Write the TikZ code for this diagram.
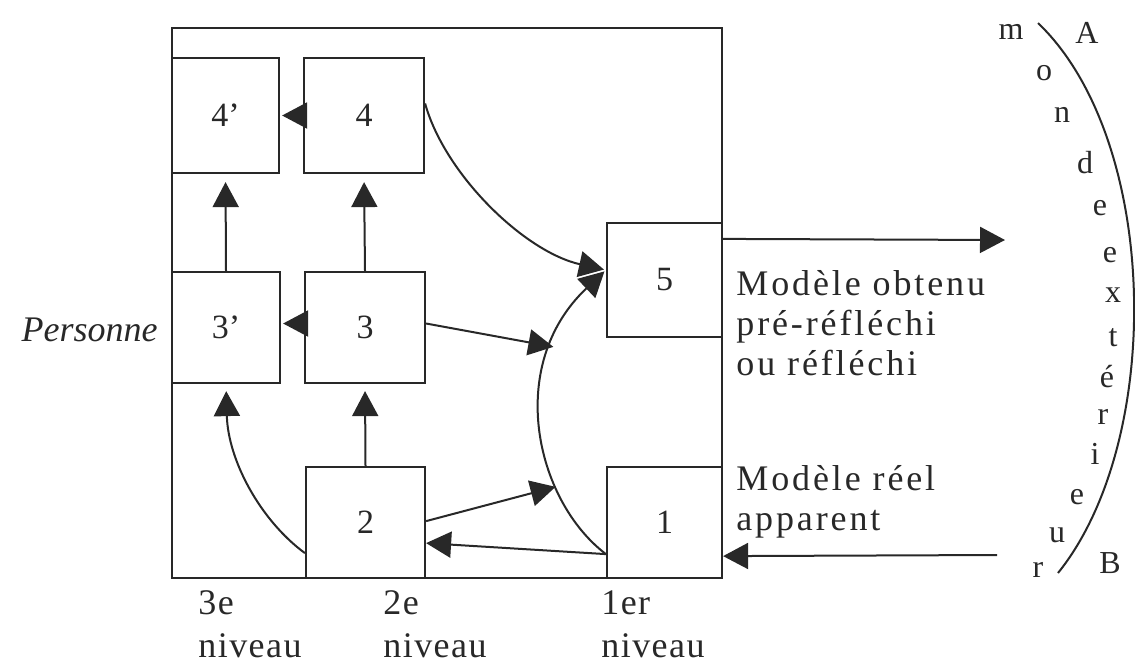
\documentclass[tikz,border=0pt]{standalone}
\usepackage{fontspec}
\setmainfont{Liberation Serif}
\newfontfamily\widefont[LetterSpace=8]{Liberation Serif}
\newfontfamily\midfont[LetterSpace=4]{Liberation Serif}
\usetikzlibrary{arrows.meta, calc}
\definecolor{ink}{RGB}{40,40,40}
\tikzset{
    box/.style={draw=ink, line width=1.1pt, inner sep=0pt, text=ink,
        font=\fontsize{17}{20}\selectfont},
    arr/.style={ink, line width=1pt, -{Triangle[length=12.5pt, width=13pt]}},
    model/.style={text=ink, inner sep=0pt, align=left,
        font=\widefont\fontsize{18}{20}\selectfont},
    lvl/.style={text=ink, inner sep=0pt, font=\midfont\fontsize{18}{20}\selectfont},
    letter/.style={text=ink, inner sep=0pt, font=\fontsize{16}{18}\selectfont},
}

\begin{document}
\begin{tikzpicture}[x=0.5pt, y=-0.5pt]
    \useasboundingbox (0,0) rectangle (1135,666);

    %% Outer frame (the person)
    \draw[ink, line width=1.1pt] (172,28) rectangle (722,578);

    %% --- Boxes ---
    \node[box, minimum width=53.5pt, minimum height=57.5pt] (b4p) at (225.5,115.5) {4’};
    \node[box, minimum width=60pt,   minimum height=57.5pt] (b4)  at (364,115.5)   {4};
    \node[box, minimum width=54pt,   minimum height=55.5pt] (b3p) at (226,327.5)   {3’};
    \node[box, minimum width=60pt,   minimum height=55.5pt] (b3)  at (365,327.5)   {3};
    \node[box, minimum width=59.5pt, minimum height=55.5pt] (b2)  at (365.5,522.5) {2};
    \node[box, minimum width=57.5pt, minimum height=57pt]   (b5)  at (664.5,280)   {5};
    \node[box, minimum width=57.5pt, minimum height=55.5pt] (b1)  at (664.5,522.5) {1};

    %% --- Straight arrows inside the frame ---
    \draw[arr, shorten >=1pt] (b4.west) -- (b4p.east);
    \draw[arr, shorten >=1pt] ([yshift=2pt]b3.west) -- ([yshift=2pt]b3p.east);
    \draw[arr, shorten >=4pt] (b3p.north) -- (b4p.south);
    \draw[arr, shorten >=4pt] (b3.north) -- (b4.south);
    \draw[arr, shorten >=3.5pt] (b2.north) -- (b3.south);

    %% --- Curved arrows ---
    \coordinate (b2lo) at ([yshift=13pt]b2.south west);
    \draw[arr, shorten >=3.5pt] (b2lo) .. controls (260,520) and (228,460) .. (b3p.south);

    \coordinate (b4hi) at ([yshift=6pt]b4.east);
    \coordinate (b5in) at ([yshift=5pt]b5.west);
    \draw[arr, shorten >=1pt] (b4hi) .. controls (445,175) and (525,252) .. (b5in);

    \coordinate (b1lo) at ([yshift=12.5pt]b1.south west);
    \draw[arr, shorten >=1pt] (b1lo) .. controls (535,500) and (505,365)
        .. coordinate[pos=0.3] (arcB) coordinate[pos=0.75] (arcA) (b5in);

    %% arrows onto the arc
    \draw[arr] ([yshift=2pt]b3.east) -- (arcA);
    \coordinate (b2hi) at ([yshift=29pt]b2.south east);
    \draw[arr] (b2hi) -- (arcB);
    \coordinate (b2mid) at ([yshift=18pt]b2.south east);
    \draw[arr] (b1lo) -- (b2mid);

    %% --- To and from the outside world ---
    \coordinate (b5out) at ([yshift=-8.5pt]b5.north east);
    \coordinate (outR) at (1005,240);
    \draw[arr] (b5out) -- (outR);
    \coordinate (inR) at (997,555);
    \coordinate (b1in) at ([yshift=11.5pt]b1.south east);
    \draw[arr] (inR) -- (b1in);

    %% --- Texts ---
    \node[model, anchor=west] (obtenu) at (736,323) {Modèle obtenu\\pré-réfléchi\\ou réfléchi};
    \node[model, anchor=west] (reel) at (736,502) {Modèle réel\\apparent};
    \node[lvl, anchor=base east, font=\fontsize{18}{20}\selectfont\itshape] (pers) at (158,341) {Personne};

    \node[lvl, anchor=base west] (n3a) at (198,614) {3e};
    \node[lvl, anchor=base west] (n3b) at (198,657) {niveau};
    \node[lvl, anchor=base west] (n2a) at (383,614) {2e};
    \node[lvl, anchor=base west] (n2b) at (383,657) {niveau};
    \node[lvl, anchor=base west] (n1a) at (601,614) {1er};
    \node[lvl, anchor=base west] (n1b) at (601,657) {niveau};

    %% --- Outside world arc A-B ---
    \coordinate (A) at (1038,23);
    \coordinate (B) at (1058,573);
    \draw[ink, line width=1pt] (A) .. controls (1160,140) and (1165,440) .. (B);
    \node[letter] (labA) at (1087,33) {A};
    \node[letter] (labB) at (1110,563) {B};

    \node[letter] (m1) at (1011,32)  {m};
    \node[letter] (m2) at (1044,73)  {o};
    \node[letter] (m3) at (1062,115) {n};
    \node[letter] (m4) at (1085,163) {d};
    \node[letter] (m5) at (1100,208) {e};
    \node[letter] (e1) at (1110,255) {e};
    \node[letter] (e2) at (1113,295) {x};
    \node[letter] (e3) at (1113,338) {t};
    \node[letter] (e4) at (1107,377) {é};
    \node[letter] (e5) at (1103,417) {r};
    \node[letter] (e6) at (1095,454) {i};
    \node[letter] (e7) at (1077,497) {e};
    \node[letter] (e8) at (1057,535) {u};
    \node[letter] (e9) at (1038,570) {r};

\end{tikzpicture}
\end{document}
